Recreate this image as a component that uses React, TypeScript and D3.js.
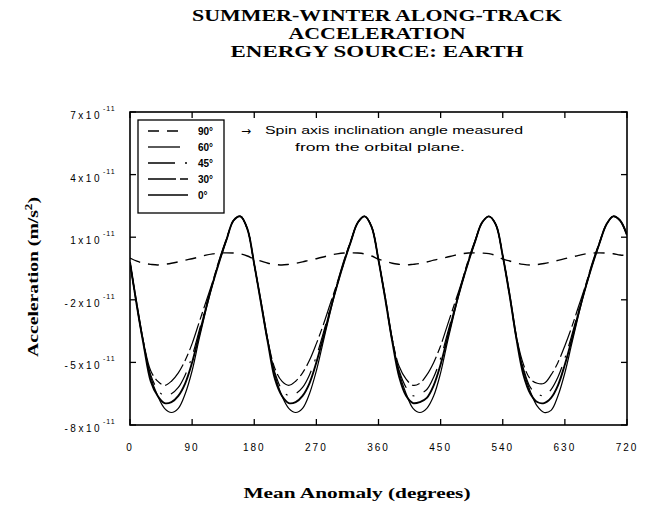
import { useMemo } from 'react';
import * as d3 from 'd3';

// Mean anomaly (deg), 0..720 in 10 deg steps
const anomaly = d3.range(0, 721, 10);

// Acceleration in units of 1e-11 m/s^2
const acc90 = [
  0.0, -0.15, -0.25, -0.3, -0.33, -0.3, -0.25, -0.18, -0.1, -0.03, 0.05, 0.14, 0.2, 0.24, 0.25, 0.24, 0.2, 0.1,
  -0.05, -0.15, -0.25, -0.3, -0.33, -0.3, -0.25, -0.18, -0.1, -0.03, 0.05, 0.14, 0.2, 0.24, 0.25, 0.24, 0.2, 0.1,
  -0.05, -0.15, -0.25, -0.3, -0.33, -0.3, -0.26, -0.19, -0.1, -0.03, 0.05, 0.13, 0.2, 0.24, 0.25, 0.24, 0.21, 0.12,
  -0.05, -0.14, -0.24, -0.3, -0.33, -0.31, -0.26, -0.19, -0.11, -0.03, 0.05, 0.13, 0.2, 0.24, 0.25, 0.24, 0.21, 0.15,
  0.12,
];
const acc60 = [
  -0.2, -2.2, -4.1, -5.7, -6.6, -7.2, -7.4, -7.2, -6.5, -5.4, -3.9, -2.5, -1.2, -0.1, 0.9, 1.8, 2.0, 1.4,
  -0.3, -2.1, -4.0, -5.6, -6.6, -7.2, -7.4, -7.2, -6.5, -5.4, -4.0, -2.6, -1.3, -0.2, 0.8, 1.7, 2.0, 1.5,
  -0.1, -1.9, -3.9, -5.5, -6.5, -7.2, -7.4, -7.2, -6.6, -5.5, -4.0, -2.6, -1.3, -0.2, 0.8, 1.7, 2.0, 1.6,
  0.1, -1.7, -3.8, -5.4, -6.4, -7.1, -7.4, -7.3, -6.6, -5.5, -4.1, -2.7, -1.4, -0.3, 0.7, 1.6, 2.0, 1.8,
  1.1,
];
const acc45 = [
  -0.2, -2.3, -4.2, -5.6, -6.3, -6.6, -6.5, -6.2, -5.6, -4.7, -3.5, -2.3, -1.2, -0.1, 0.9, 1.8, 2.0, 1.4,
  -0.3, -2.2, -4.1, -5.5, -6.3, -6.6, -6.5, -6.2, -5.6, -4.7, -3.6, -2.4, -1.3, -0.2, 0.8, 1.7, 2.0, 1.5,
  -0.1, -2.0, -4.0, -5.4, -6.2, -6.6, -6.5, -6.3, -5.7, -4.8, -3.6, -2.4, -1.3, -0.2, 0.8, 1.7, 2.0, 1.6,
  0.1, -1.8, -3.9, -5.3, -6.2, -6.5, -6.6, -6.3, -5.7, -4.8, -3.7, -2.5, -1.4, -0.3, 0.7, 1.6, 2.0, 1.8,
  1.1,
];
const acc30 = [
  -0.2, -2.3, -4.1, -5.4, -5.9, -6.1, -5.9, -5.5, -4.9, -4.1, -3.1, -2.1, -1.1, 0.0, 0.95, 1.8, 2.0, 1.4,
  -0.3, -2.2, -4.0, -5.3, -5.9, -6.1, -5.9, -5.5, -4.9, -4.1, -3.2, -2.2, -1.2, -0.1, 0.85, 1.7, 2.0, 1.5,
  -0.1, -2.0, -3.9, -5.2, -5.8, -6.1, -6.0, -5.6, -5.0, -4.2, -3.2, -2.2, -1.2, -0.1, 0.85, 1.7, 2.0, 1.6,
  0.1, -1.8, -3.8, -5.1, -5.8, -6.0, -6.0, -5.6, -5.0, -4.2, -3.3, -2.3, -1.3, -0.2, 0.75, 1.6, 2.0, 1.8,
  1.1,
];
const acc0 = [
  -0.2, -2.3, -4.2, -5.9, -6.6, -6.95, -6.9, -6.6, -6.0, -5.0, -3.7, -2.4, -1.2, -0.1, 0.9, 1.8, 2.0, 1.4,
  -0.3, -2.2, -4.1, -5.8, -6.6, -6.95, -6.9, -6.6, -6.0, -5.0, -3.8, -2.5, -1.3, -0.2, 0.8, 1.7, 2.0, 1.5,
  -0.1, -2.0, -4.0, -5.7, -6.6, -6.95, -6.9, -6.7, -6.1, -5.1, -3.8, -2.5, -1.3, -0.2, 0.8, 1.7, 2.0, 1.6,
  0.1, -1.8, -3.9, -5.6, -6.5, -6.9, -6.95, -6.7, -6.1, -5.1, -3.9, -2.6, -1.4, -0.3, 0.7, 1.6, 2.0, 1.8,
  1.1,
];

const seriesNames = ['90°', '60°', '45°', '30°', '0°'];
const seriesValues = [acc90, acc60, acc45, acc30, acc0];
const seriesDash = ['11,8', null, '27,10,2,10', '28,4,8,4', null];
const seriesWidth = [1.4, 1.2, 1.2, 1.2, 1.9];
const legendLen = [32, 32, 40, 40, 40];

const xTicks = [0, 90, 180, 270, 360, 450, 540, 630, 720];
const yTicks = [7, 4, 1, -2, -5, -8];

const titleLines = ['SUMMER-WINTER ALONG-TRACK', 'ACCELERATION', 'ENERGY SOURCE: EARTH'];
const titleWidths = [370, 177, 293];

export default function App() {
  const width = 650;
  const height = 506;
  const margin = { top: 112, right: 23, bottom: 81, left: 130 };
  const innerW = width - margin.left - margin.right;
  const innerH = height - margin.top - margin.bottom;

  const x = useMemo(() => d3.scaleLinear().domain([0, 720]).range([0, innerW]), [innerW]);
  const y = useMemo(() => d3.scaleLinear().domain([-8, 7]).range([innerH, 0]), [innerH]);

  const line = d3.line<number>()
    .x((_, i) => x(anomaly[i]))
    .y(d => y(d))
    .curve(d3.curveCatmullRom.alpha(0.5));

  const tickFont = '"Liberation Sans", Arial, sans-serif';
  const serif = '"Liberation Serif", "Times New Roman", serif';

  return (
    <svg width={width} height={height} style={{ position: 'absolute', left: 0, top: 0, background: '#fff' }}>
      {/* title */}
      {titleLines.map((t, i) => (
        <text key={t} x={377} y={21 + i * 18} textAnchor="middle" fontFamily={serif}
          fontWeight="bold" fontSize={17} textLength={titleWidths[i]}
          lengthAdjust="spacingAndGlyphs">{t}</text>
      ))}

      <g transform={`translate(${margin.left},${margin.top})`}>
        <defs>
          <clipPath id="plotclip">
            <rect x={0} y={0} width={innerW} height={innerH} />
          </clipPath>
        </defs>

        {/* curves */}
        <g clipPath="url(#plotclip)">
          {seriesValues.map((vals, i) => (
            <path key={seriesNames[i]} d={line(vals) || ''} fill="none" stroke="#000"
              strokeWidth={seriesWidth[i]} strokeDasharray={seriesDash[i] || undefined} />
          ))}
        </g>

        {/* frame */}
        <rect x={0} y={0} width={innerW} height={innerH} fill="none" stroke="#000" strokeWidth={1.6} />

        {/* x ticks, inside on bottom and top */}
        {xTicks.map(t => (
          <g key={'x' + t}>
            <line x1={x(t)} x2={x(t)} y1={innerH} y2={innerH - 6} stroke="#000" strokeWidth={1.3} />
            <line x1={x(t)} x2={x(t)} y1={0} y2={6} stroke="#000" strokeWidth={1.3} />
            <text x={x(t)} y={innerH + 26} textAnchor="middle" fontFamily={tickFont} fontSize={10}
              letterSpacing={2}>{t}</text>
          </g>
        ))}

        {/* y ticks, inside on left and right */}
        {yTicks.map(t => (
          <g key={'y' + t}>
            <line x1={0} x2={6} y1={y(t)} y2={y(t)} stroke="#000" strokeWidth={1.3} />
            <line x1={innerW} x2={innerW - 6} y1={y(t)} y2={y(t)} stroke="#000" strokeWidth={1.3} />
            <text x={-28} y={y(t) + 7} textAnchor="end" fontFamily={tickFont} fontSize={10}
              letterSpacing={2.5}>{`${t}x10`}</text>
            <text x={-27} y={y(t) - 1} fontFamily={tickFont} fontSize={7} letterSpacing={1}>-11</text>
          </g>
        ))}

        {/* legend */}
        <rect x={8} y={8} width={86} height={93} fill="#fff" stroke="#000" strokeWidth={1.3} />
        {seriesNames.map((n, i) => (
          <g key={'lg' + n} transform={`translate(18,${19 + i * 16})`}>
            <line x1={0} x2={legendLen[i]} y1={0} y2={0} stroke="#000" strokeWidth={1.3}
              strokeDasharray={seriesDash[i] || undefined} />
            <text x={50} y={3.5} fontFamily={tickFont} fontSize={10} fontWeight="bold">{n}</text>
          </g>
        ))}

        {/* annotation */}
        <text x={111} y={23} fontFamily='"DejaVu Sans", sans-serif' fontSize={12}>→</text>
        <text x={135} y={22} fontFamily={tickFont} fontSize={10} textLength={258}
          lengthAdjust="spacingAndGlyphs">Spin axis inclination angle measured</text>
        <text x={165} y={39} fontFamily={tickFont} fontSize={10} textLength={170}
          lengthAdjust="spacingAndGlyphs">from the orbital plane.</text>
      </g>

      {/* axis titles */}
      <text x={357} y={498} textAnchor="middle" fontFamily={serif} fontWeight="bold" fontSize={15}
        textLength={227} lengthAdjust="spacingAndGlyphs">
        Mean Anomaly  (degrees)
      </text>
      <text transform="translate(38,277) rotate(-90)" textAnchor="middle" fontFamily={serif}
        fontWeight="bold" fontSize={15} textLength={160} lengthAdjust="spacingAndGlyphs">
        Acceleration (m/s<tspan dy={-6} fontSize={10}>2</tspan><tspan dy={6}>)</tspan>
      </text>
    </svg>
  );
}
